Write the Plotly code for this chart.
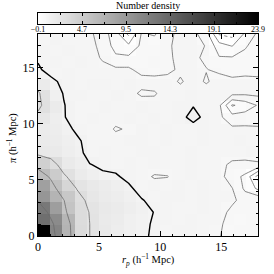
import numpy as np
import plotly.graph_objects as go

# cell centres of the 18 x 18 map (h^-1 Mpc)
rp_centres = [i + 0.5 for i in range(18)]
pi_centres = [j + 0.5 for j in range(18)]
# contour sampling positions (grid stretched to the frame edges)
rp_grid = [i * 18 / 17 for i in range(18)]
pi_grid = [j * 18 / 17 for j in range(18)]

# number density, one list per pi row (bottom row first), r_p increasing
row_00 = [23.9, 11.5, 7.0, 3.3, 2.5, 2.0, 1.6, 1.3, 1.12, 0.9, 0.88, 0.92, 0.95, 0.85, 0.77, 0.6, 0.62, 0.65]
row_01 = [13.5, 10.8, 6.8, 3.2, 2.5, 1.9, 1.7, 1.35, 1.1, 0.95, 0.9, 0.85, 0.9, 0.88, 0.8, 0.62, 0.6, 0.66]
row_02 = [12.6, 9.0, 5.5, 3.2, 2.45, 2.0, 1.8, 1.5, 1.2, 0.98, 0.9, 0.82, 0.88, 0.9, 0.85, 0.68, 0.62, 0.7]
row_03 = [9.8, 7.0, 5.05, 3.0, 2.2, 1.8, 1.6, 1.3, 1.03, 0.88, 0.92, 0.9, 0.85, 0.92, 0.88, 0.8, 0.65, 0.7]
row_04 = [8.8, 5.8, 3.8, 2.45, 2.0, 1.7, 1.4, 1.08, 0.85, 0.9, 0.88, 0.92, 0.86, 0.9, 0.88, 0.76, 0.45, 0.2]
row_05 = [6.2, 4.7, 2.7, 1.8, 1.4, 1.1, 1.05, 0.9, 0.85, 0.72, 0.74, 0.88, 0.9, 0.85, 0.85, 0.6, 0.45, -0.1]
row_06 = [4.3, 3.1, 1.9, 1.5, 1.02, 0.9, 0.88, 0.92, 0.85, 0.9, 0.88, 0.86, 0.92, 0.88, 0.82, 0.7, 0.68, 0.7]
row_07 = [2.1, 1.9, 1.5, 1.2, 0.8, 0.9, 0.88, 0.85, 0.9, 0.92, 0.86, 0.88, 0.9, 0.85, 0.88, 0.85, 0.86, 0.9]
row_08 = [1.9, 1.7, 1.4, 1.1, 0.8, 0.88, 0.86, 0.9, 0.92, 0.88, 0.9, 0.86, 0.82, 0.9, 0.85, 0.88, 0.9, 0.86]
row_09 = [1.8, 1.6, 1.2, 0.9, 0.85, 0.88, 0.72, 0.78, 0.9, 0.86, 0.9, 0.88, 0.85, 0.9, 0.86, 0.8, 0.8, 0.8]
row_10 = [2.2, 1.5, 1.02, 0.85, 0.9, 0.88, 0.85, 0.9, 0.88, 0.9, 0.86, 0.9, 1.12, 0.9, 0.8, 0.6, 0.62, 0.58]
row_11 = [2.8, 1.75, 1.02, 0.8, 0.88, 0.9, 0.86, 0.88, 0.9, 0.85, 0.88, 0.9, 0.98, 0.88, 0.8, 0.22, 0.35, 0.52]
row_12 = [2.7, 1.3, 0.97, 0.9, 0.86, 0.88, 0.9, 0.85, 0.7, 0.72, 0.88, 0.86, 0.9, 0.88, 0.85, 0.82, 0.8, 0.82]
row_13 = [1.8, 1.1, 0.9, 0.88, 0.9, 0.92, 0.88, 0.9, 0.86, 0.88, 0.85, 0.72, 0.85, 0.72, 0.85, 0.86, 0.88, 0.85]
row_14 = [1.06, 0.85, 0.9, 0.88, 0.86, 0.82, 0.8, 0.8, 0.65, 0.6, 0.68, 0.8, 0.82, 0.76, 0.7, 0.55, 0.6, 0.6]
row_15 = [0.95, 0.9, 0.88, 0.9, 0.85, 0.72, 0.55, 0.55, 0.6, 0.62, 0.7, 0.82, 0.8, 0.7, 0.52, 0.52, 0.55, 0.6]
row_16 = [0.9, 0.88, 0.92, 0.86, 0.82, 0.68, 0.4, 0.3, 0.55, 0.6, 0.7, 0.85, 0.82, 0.74, 0.35, 0.24, 0.48, 0.58]
row_17 = [0.85, 0.9, 0.88, 0.86, 0.8, 0.62, 0.35, -0.05, 0.52, 0.48, 0.65, 0.85, 0.82, 0.6, -0.02, -0.1, 0.3, 0.55]

density = [row_00, row_01, row_02, row_03, row_04, row_05, row_06, row_07, row_08,
           row_09, row_10, row_11, row_12, row_13, row_14, row_15, row_16, row_17]

z_min, z_max = -0.1, 23.9
cbar_tickvals = [-0.1, 4.7, 9.5, 14.3, 19.1, 23.9]
cbar_ticktext = ["\u22120.1", "4.7", "9.5", "14.3", "19.1", "23.9"]
axis_tickvals = [0, 5, 10, 15]

thick_level = 1.0
low_levels = (0.25, 0.75, 0.25)   # start, end, step (thin grey)
high_levels = [2.5, 5.0, 10.0]    # thin grey
dotted_level = 0.0

FONT = "Liberation Serif"
GREYS = [[0, "#ffffff"], [1, "#000000"]]
THIN = "#6a6a6a"

fig = go.Figure()
fig.add_trace(go.Heatmap(
    x=rp_centres, y=pi_centres, z=density,
    colorscale=GREYS, zmin=z_min, zmax=z_max, hoverinfo="skip", showscale=False,
))


def add_contour(start, end, size, color, width, dash="solid"):
    fig.add_trace(go.Contour(
        x=rp_grid, y=pi_grid, z=density,
        autocontour=False,
        contours=dict(start=start, end=end, size=size, coloring="none", showlabels=False),
        line=dict(color=color, width=width, dash=dash, smoothing=0),
        showscale=False, hoverinfo="skip",
    ))


add_contour(low_levels[0], low_levels[1], low_levels[2], THIN, 0.8)
for lv in high_levels:
    add_contour(lv, lv, 1, THIN, 0.8)
add_contour(dotted_level, dotted_level, 1, THIN, 0.8, dash="dot")
add_contour(thick_level, thick_level, 1, "#000000", 1.4)

# colour bar drawn as a one-row heatmap on its own axes
bar_vals = np.linspace(z_min, z_max, 241)
fig.add_trace(go.Heatmap(
    x=bar_vals, y=[0], z=[bar_vals], xaxis="x2", yaxis="y2",
    colorscale=GREYS, zmin=z_min, zmax=z_max, showscale=False, hoverinfo="skip",
))

axis_common = dict(
    range=[0, 18], showline=True, linecolor="black", linewidth=1, mirror="ticks",
    ticks="inside", ticklen=5, tickcolor="black", tickwidth=1,
    tickvals=axis_tickvals, showgrid=False, zeroline=False, automargin=False,
    minor=dict(dtick=1, ticks="inside", ticklen=2.5, tickcolor="black", showgrid=False),
    tickfont=dict(family=FONT, size=12, color="black"),
)

# paper spans y pixels 4..236 (232 px)
def py(px):
    return (236 - px) / 232


fig.update_layout(
    template="none",
    width=274, height=274, autosize=False,
    margin=dict(l=38, r=16, t=4, b=38, pad=0),
    paper_bgcolor="white", plot_bgcolor="white",
    showlegend=False,
    font=dict(family=FONT, color="black"),
    xaxis=dict(axis_common, domain=[0, 1], anchor="y"),
    yaxis=dict(axis_common, domain=[0, py(34)], anchor="x"),
    xaxis2=dict(domain=[0, 1], anchor="y2", range=[z_min, z_max], automargin=False,
                showline=True, linecolor="black", linewidth=1, mirror="ticks",
                ticks="inside", ticklen=3, tickcolor="black",
                tickvals=cbar_tickvals, ticktext=cbar_ticktext,
                ticklabelstandoff=-3,
                minor=dict(dtick=2.4, tick0=-0.1, ticks="inside", ticklen=2, tickcolor="black"),
                tickfont=dict(family=FONT, size=8, color="black"),
                showgrid=False, zeroline=False),
    yaxis2=dict(domain=[py(24), py(13)], anchor="x2", range=[-0.5, 0.5], automargin=False,
                showline=True, linecolor="black", linewidth=1, mirror=True,
                showticklabels=False, ticks="", showgrid=False, zeroline=False),
    annotations=[
        dict(text="Number density", x=0.5, xref="paper", y=py(6), yref="paper",
             xanchor="center", yanchor="middle", showarrow=False,
             font=dict(family=FONT, size=10, color="black")),
        dict(text="<i>r</i><sub><i>p</i></sub> (h<sup>\u22121</sup> Mpc)",
             x=0.5, xref="paper", y=py(260), yref="paper",
             xanchor="center", yanchor="middle", showarrow=False,
             font=dict(family=FONT, size=10.5, color="black")),
        dict(text="<i>\u03c0</i> (h<sup>\u22121</sup> Mpc)", textangle=-90,
             x=(12 - 38) / 220, xref="paper", y=py(138), yref="paper",
             xanchor="center", yanchor="middle", showarrow=False,
             font=dict(family=FONT, size=10.5, color="black")),
    ],
)

fig.write_html("out.html", config={"displayModeBar": False},
               post_script="document.body.style.margin='0';")
